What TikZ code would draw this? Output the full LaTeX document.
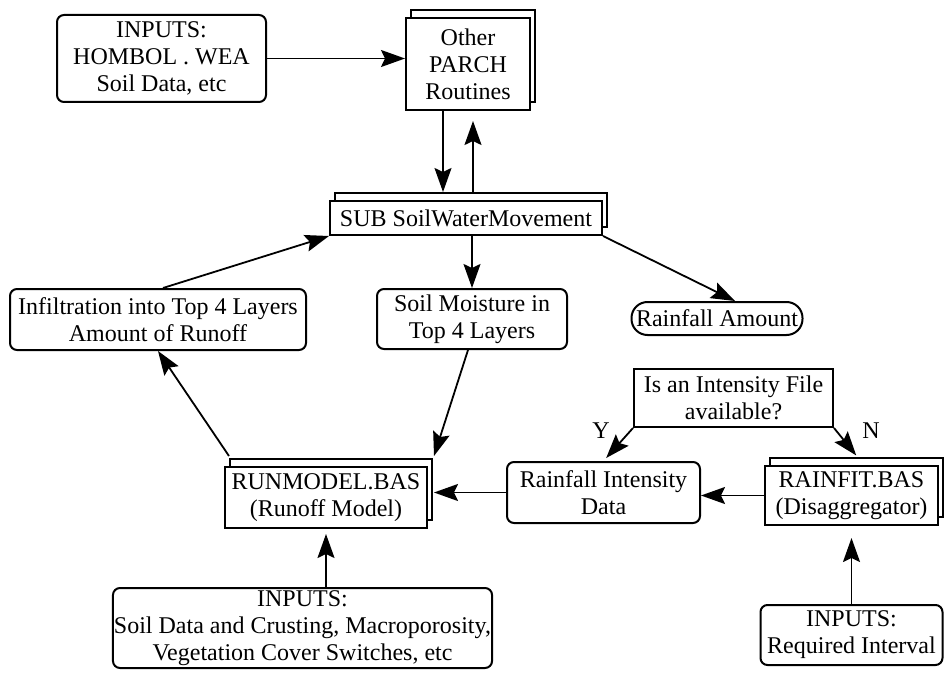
\documentclass[tikz,border=0pt]{standalone}
\usepackage{fontspec}
\setmainfont{Liberation Serif}
\usetikzlibrary{arrows.meta,shadows}
\begin{document}
\begin{tikzpicture}[x=1pt,y=-1pt,
  every node/.style={font=\fontsize{24}{27}\selectfont, align=center, inner sep=1pt},
  rbox/.style={draw, line width=2pt, rounded corners=7pt, fill=white},
  pbox/.style={draw, line width=2pt, fill=white},
  tbox/.style={draw, line width=2pt, fill=white,
    general shadow={shadow xshift=5pt, shadow yshift=8pt, draw, fill=white, line width=1.6pt}},
  conn/.style={line width=1.8pt, -{Stealth[length=24pt,width=17pt,inset=4pt]}}
]
\useasboundingbox (0,0) rectangle (944,676);

\node[rbox, minimum width=209pt, minimum height=87pt] (hombol) at (161.5,58.5) {INPUTS:\\HOMBOL . WEA\\Soil Data, etc};
\node[tbox, minimum width=124pt, minimum height=92pt] (parch) at (468,64) {Other\\PARCH\\Routines};
\node[tbox, minimum width=272pt, minimum height=34pt] (sub) at (466,218) {SUB SoilWaterMovement};
\node[rbox, minimum width=296pt, minimum height=61pt] (infil) at (158,319.5) {Infiltration into Top 4 Layers\\Amount of Runoff};
\node[rbox, minimum width=190pt, minimum height=60pt] (soil) at (472,319) {Soil Moisture in\\Top 4 Layers};
\node[rbox, rounded corners=16pt, minimum width=171pt, minimum height=33pt] (rainamt) at (717,318.5) {Rainfall Amount};
\node[pbox, minimum width=199pt, minimum height=58pt] (isint) at (733.5,398) {Is an Intensity File\\available?};
\node[rbox, minimum width=193pt, minimum height=61pt] (rid) at (603.5,492.5) {Rainfall Intensity\\Data};
\node[tbox, minimum width=173pt, minimum height=59pt] (rainfit) at (851.5,495.5) {RAINFIT.BAS\\(Disaggregator)};
\node[tbox, minimum width=202pt, minimum height=61pt] (runmodel) at (326,497.5) {RUNMODEL.BAS\\(Runoff Model)};
\node[rbox, minimum width=351pt, minimum height=80pt] (inp2) at (302.5,628) {INPUTS:\\Soil Data and Crusting, Macroporosity,\\Vegetation Cover Switches, etc};
\node[rbox, minimum width=182pt, minimum height=60pt] (inp3) at (851.5,635) {INPUTS:\\Required Interval};

\node (ylab) at (601,431) {Y};
\node (nlab) at (871,431) {N};

\coordinate (rmr) at ([xshift=6pt]runmodel.east);

\draw[conn] (hombol.east) -- (parch.west |- hombol.east);
\draw[conn] ([xshift=-25pt]parch.south) -- ([xshift=-23pt,yshift=8pt]sub.north);
\draw[conn, shorten >=10pt] ([xshift=7pt,yshift=8pt]sub.north) -- ([xshift=5pt]parch.south);
\draw[conn] ([xshift=5pt]infil.north) -- (sub.south west);
\draw[conn] (sub.south -| soil.north) -- (soil.north);
\draw[conn] (sub.south east) -- ([xshift=18pt]rainamt.north);
\draw[conn] ([xshift=-4pt]soil.south) -- ([xshift=6pt,yshift=10pt]runmodel.north east);
\draw[conn] ([xshift=5pt,yshift=10pt]runmodel.north west) -- (infil.south);
\draw[conn, shorten >=4pt] (isint.south west) -- (rid.north);
\draw[conn, shorten >=2pt] (isint.south east) -- ([xshift=6pt,yshift=8pt]rainfit.north);
\draw[conn] (rainfit.west) -- (rainfit.west -| rid.east);
\draw[conn] (rid.west) -- (rid.west -| rmr);
\draw[conn, shorten >=12pt] (inp3.north) -- (rainfit.south);
\draw[conn, shorten >=5pt] (inp2.north -| runmodel.south) -- (runmodel.south);
\end{tikzpicture}
\end{document}
